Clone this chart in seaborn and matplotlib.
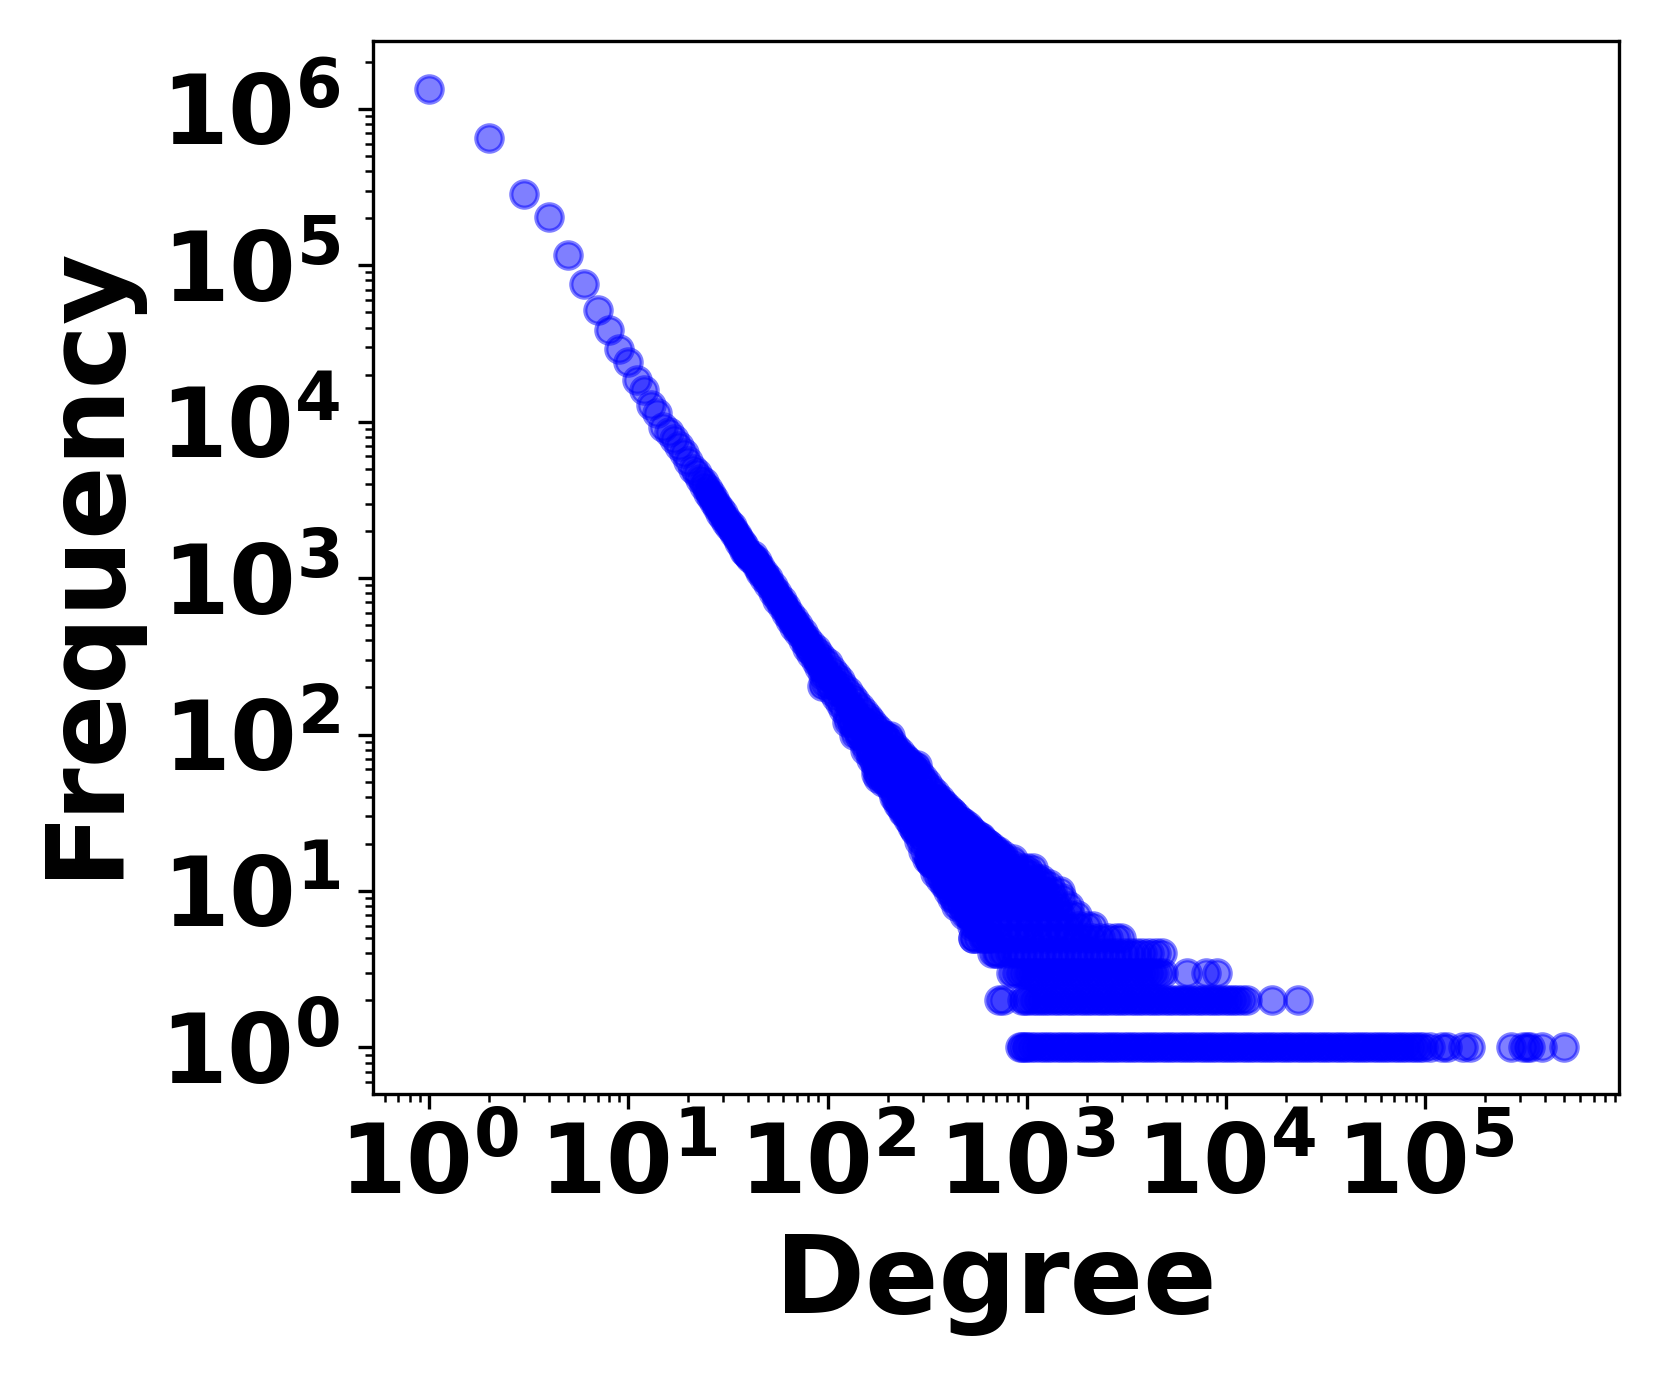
import numpy as np
import pandas as pd
import matplotlib
matplotlib.use("Agg")
import matplotlib.pyplot as plt
from matplotlib.ticker import LogLocator, NullFormatter
import seaborn as sns

# Step 1: values
# single points at the low degree end
head_degree = [1, 2, 3, 4, 5, 6, 7, 8, 9, 10, 11, 12, 13, 14, 15, 16, 17, 18, 19, 20,
               21, 22, 23, 24, 25, 26, 27, 28, 29, 30, 31, 32, 33, 34, 35, 36, 37, 38, 39, 40, 41]
head_freq = [1340000, 650000, 287000, 203000, 116000, 76000, 52000, 38500, 29000, 24000,
             18400, 16000, 12800, 11300, 9250, 8600, 7800, 7000, 6300, 5600,
             5000, 4700, 4300, 3900, 3500, 3300, 3050, 2850, 2600, 2450, 2300, 2150, 2050,
             1950, 1820, 1700, 1600, 1500, 1450, 1400, 1380]
head2_degree = [24, 25, 26, 27, 28, 29, 30, 31, 32, 33, 34, 35, 36, 37, 38, 39, 40, 41]
head2_freq = [4100, 3700, 3450, 3200, 2950, 2750, 2600, 2400, 2250, 2150, 2000, 1900, 1780, 1680, 1600, 1500, 1430, 1350]

# the widening band, frequencies per degree from top to bottom
band_degree = [42, 44, 46, 48, 50, 53, 56, 59, 62, 65, 68, 71, 75, 79, 83, 87, 91, 95, 100,
               105, 110, 115, 120, 126, 132, 138, 145, 152, 159, 166, 174, 182, 191, 200,
               210, 220, 230, 241, 252, 264, 276, 289, 303, 317, 332, 348, 365, 382, 400,
               420, 440, 460, 482, 505, 530, 555, 580, 610, 640, 670, 700]
band_top = [1400, 1280, 1180, 1080, 1000, 890, 800, 720, 650, 590, 545, 500, 450, 410, 380, 350, 325, 305, 285,
            260, 240, 222, 205, 190, 175, 163, 150, 140, 130, 122, 114, 107, 100, 95,
            88, 82, 77, 72, 68, 64, 62, 57, 53, 49, 45, 42, 39, 36, 34,
            32, 30, 28, 27, 26, 24, 23, 22, 21, 20, 19, 18]
band_mid = [1350, 1235, 1135, 1040, 960, 855, 765, 690, 625, 565, 515, 475, 425, 382, 347, 315, 290, 262, 240,
            225, 207, 190, 175, 160, 146, 135, 124, 114, 106, 98, 90, 81, 76, 71,
            66, 60, 56, 52, 48, 45, 43, 39, 35, 32, 29, 27, 25, 23, 22,
            20, 19, 18, 17, 16, 15, 14, 13, 12, 12, 11, 11]
band_bot = [1300, 1190, 1090, 1000, 920, 820, 730, 660, 600, 540, 490, 450, 400, 360, 325, 295, 270, 240, 215,
            190, 175, 158, 145, 130, 118, 107, 98, 88, 82, 74, 66, 56, 52, 48,
            44, 39, 35, 32, 29, 26, 24, 21, 18, 16, 15, 13, 12, 11, 10,
            9, 8, 8, 7, 7, 6, 6, 6, 5, 5, 4, 4]

# a few points that stick out of the band
out_degree = [94, 96, 175, 180, 206, 282, 322, 330, 350, 387, 400, 513, 540, 560, 1000]
out_freq = [205, 210, 56, 53, 98, 64, 16, 15, 38, 11, 11, 7, 5, 5, 14]

# integer frequency rows in the tail
deg_f120 = [125, 133, 141, 150, 160]
deg_f100 = [135, 144, 154, 165, 177, 190]
deg_f80 = [155, 166, 178, 190, 203, 217]
deg_f70 = [165, 176, 188, 201, 215, 230, 245]
deg_f60 = [175, 187, 200, 214, 229, 245, 262, 270]
deg_f50 = [190, 203, 217, 232, 248, 265, 283, 300]
deg_f40 = [215, 230, 246, 263, 281, 300, 322, 350]
deg_f36 = [225, 241, 258, 276, 295, 316, 340, 380]
deg_f32 = [240, 257, 275, 294, 315, 337, 360, 390, 420]
deg_f28 = [260, 278, 298, 319, 341, 365, 390, 430, 470]
deg_f25 = [270, 289, 309, 331, 354, 379, 405, 445, 480, 520]
deg_f22 = [290, 310, 332, 355, 380, 407, 435, 470, 510, 550, 590]
deg_f20 = [310, 332, 355, 380, 407, 435, 470, 510, 550, 590, 640]
deg_f18 = [340, 364, 390, 417, 446, 480, 520, 570, 620, 670, 719]
deg_f17 = [330, 353, 378, 404, 432, 465, 500, 545, 590, 640, 700, 760]
deg_f16 = [322, 345, 369, 395, 423, 455, 490, 535, 585, 640, 700, 770, 850]
deg_f15 = [340, 364, 390, 417, 450, 490, 530, 580, 640, 700, 770, 850]
deg_f14 = [350, 375, 401, 430, 465, 500, 545, 590, 640, 700, 780, 860, 950, 1072]
deg_f13 = [370, 396, 424, 455, 490, 530, 575, 625, 700, 790, 880, 980, 1040]
deg_f12 = [400, 428, 460, 495, 535, 580, 630, 700, 800, 900, 1000, 1120, 1180]
deg_f11 = [400, 428, 460, 495, 535, 580, 630, 700, 800, 900, 1000, 1100, 1200, 1300]
deg_f10 = [420, 450, 485, 525, 570, 620, 700, 800, 900, 1000, 1100, 1220, 1340, 1462]
deg_f9 = [430, 460, 495, 535, 580, 630, 700, 790, 880, 980, 1090, 1210, 1350, 1500]
deg_f8 = [480, 515, 555, 600, 650, 700, 780, 860, 950, 1050, 1160, 1280, 1420, 1620]
deg_f7 = [513, 580, 650, 730, 820, 920, 1030, 1160, 1300, 1460, 1640, 1780]
deg_f6 = [560, 630, 710, 800, 900, 1010, 1130, 1270, 1430, 1600, 1800, 2000, 2160]
deg_f5 = [540, 600, 660, 720, 790, 860, 940, 1030, 1130, 1240, 1350, 1480, 1620, 1780,
          1950, 2130, 2340, 2560, 2800, 2970]
deg_f4 = [707, 760, 820, 880, 950, 1020, 1100, 1180, 1270, 1370, 1470, 1580, 1700, 1830,
          1970, 2120, 2280, 2450, 2640, 2840, 3060, 3290, 3540, 3800, 4100, 4450, 4800]
deg_f3 = [830, 870, 915, 960, 1010, 1060, 1110, 1170, 1230, 1290, 1350, 1420, 1490, 1560,
          1640, 1720, 1810, 1900, 2000, 2100, 2200, 2310, 2430, 2550, 2680, 2810, 2950,
          3100, 3260, 3420, 3590, 3770, 3960, 4150, 4360, 4600, 4850, 6380, 7950, 8970]
deg_f2 = [727, 764, 946, 980, 1020, 1070, 1120, 1180, 1240, 1300, 1370, 1440, 1510, 1590,
          1670, 1750, 1840, 1930, 2030, 2130, 2240, 2350, 2470, 2600, 2730, 2870, 3010,
          3160, 3320, 3490, 3670, 3850, 4050, 4250, 4470, 4690, 4930, 5180, 5440, 5720,
          6010, 6310, 6630, 6970, 7320, 7690, 8080, 8490, 8920, 9370, 9840, 10300, 10800,
          11400, 12100, 12800, 17000, 23000]
deg_f1 = [930, 950, 975, 1000, 1050, 1100, 1160, 1220, 1280, 1340, 1410, 1480, 1550, 1630,
          1710, 1800, 1890, 1980, 2080, 2180, 2290, 2400, 2520, 2650, 2780, 2920, 3070,
          3220, 3380, 3550, 3730, 3910, 4110, 4310, 4530, 4750, 4990, 5240, 5500, 5780,
          6070, 6370, 6690, 7020, 7370, 7740, 8130, 8530, 8960, 9410, 9880, 10400, 10900,
          11400, 12000, 12600, 13200, 13900, 14600, 15300, 16100, 16900, 17700, 18600,
          19500, 20500, 21500, 22600, 23700, 24900, 26200, 27500, 28900, 30300, 31800,
          33400, 35100, 36900, 38700, 40600, 42700, 44800, 47000, 49400, 51900, 54500,
          57200, 60100, 63100, 66200, 69500, 73000, 76700, 80500, 84500, 88800, 93200,
          98000, 106000, 122000, 129000, 155000, 167000, 270000, 309000, 325000, 334000, 387000, 495000]

tail_rows = {120: deg_f120, 100: deg_f100, 80: deg_f80, 70: deg_f70, 60: deg_f60, 50: deg_f50,
             40: deg_f40, 36: deg_f36, 32: deg_f32, 28: deg_f28, 25: deg_f25, 22: deg_f22,
             20: deg_f20, 18: deg_f18, 17: deg_f17, 16: deg_f16, 15: deg_f15, 14: deg_f14,
             13: deg_f13, 12: deg_f12, 11: deg_f11, 10: deg_f10, 9: deg_f9, 8: deg_f8,
             7: deg_f7, 6: deg_f6, 5: deg_f5, 4: deg_f4, 3: deg_f3, 2: deg_f2, 1: deg_f1}

# Step 2: build the table
frames = [pd.DataFrame({"Degree": head_degree, "Frequency": head_freq}),
          pd.DataFrame({"Degree": head2_degree, "Frequency": head2_freq}),
          pd.DataFrame({"Degree": out_degree, "Frequency": out_freq})]
for band in (band_top, band_mid, band_bot):
    frames.append(pd.DataFrame({"Degree": band_degree, "Frequency": band}))
for freq, degrees in tail_rows.items():
    frames.append(pd.DataFrame({"Degree": degrees, "Frequency": freq}))
df = pd.concat(frames, ignore_index=True)

# Step 3: plot
sns.set_style("ticks")
plt.rcParams["font.family"] = ["DejaVu Sans"]
plt.rcParams["font.weight"] = "bold"
plt.rcParams["axes.labelweight"] = "bold"
plt.rcParams["mathtext.default"] = "regular"
plt.rcParams["axes.edgecolor"] = "black"
plt.rcParams["xtick.color"] = "black"
plt.rcParams["ytick.color"] = "black"
plt.rcParams["axes.labelcolor"] = "black"

fig = plt.figure(figsize=(1661 / 300, 1384 / 300), dpi=300)
ax = fig.add_axes([373 / 1661, 1 - 1094 / 1384, (1619 - 373) / 1661, (1094 - 41) / 1384])

sns.scatterplot(data=df, x="Degree", y="Frequency", color="blue", edgecolor="blue",
                alpha=0.5, s=40, linewidth=1, ax=ax, clip_on=True)

ax.set_xscale("log")
ax.set_yscale("log")
ax.set_xlim(10 ** -0.282, 10 ** 5.973)
ax.set_ylim(10 ** -0.298, 10 ** 6.434)

for axis in (ax.xaxis, ax.yaxis):
    axis.set_major_locator(LogLocator(base=10, numticks=15))
    axis.set_minor_locator(LogLocator(base=10, subs=np.arange(2, 10) * 0.1, numticks=15))
    axis.set_minor_formatter(NullFormatter())

ax.tick_params(axis="x", which="major", labelsize=23, direction="out", length=3.5, width=0.8, pad=3, bottom=True)
ax.tick_params(axis="y", which="major", labelsize=23, direction="out", length=3.5, width=0.8, pad=4.4, left=True)
ax.tick_params(axis="both", which="minor", direction="out", length=2, width=0.6, left=True, bottom=True)
for spine in ax.spines.values():
    spine.set_linewidth(0.8)

ax.set_xlabel("Degree", fontsize=26, fontweight="bold", labelpad=3.7)
ax.set_ylabel("Frequency", fontsize=26, fontweight="bold", labelpad=5.4, y=0.506)

fig.savefig("out.png", dpi=300)
